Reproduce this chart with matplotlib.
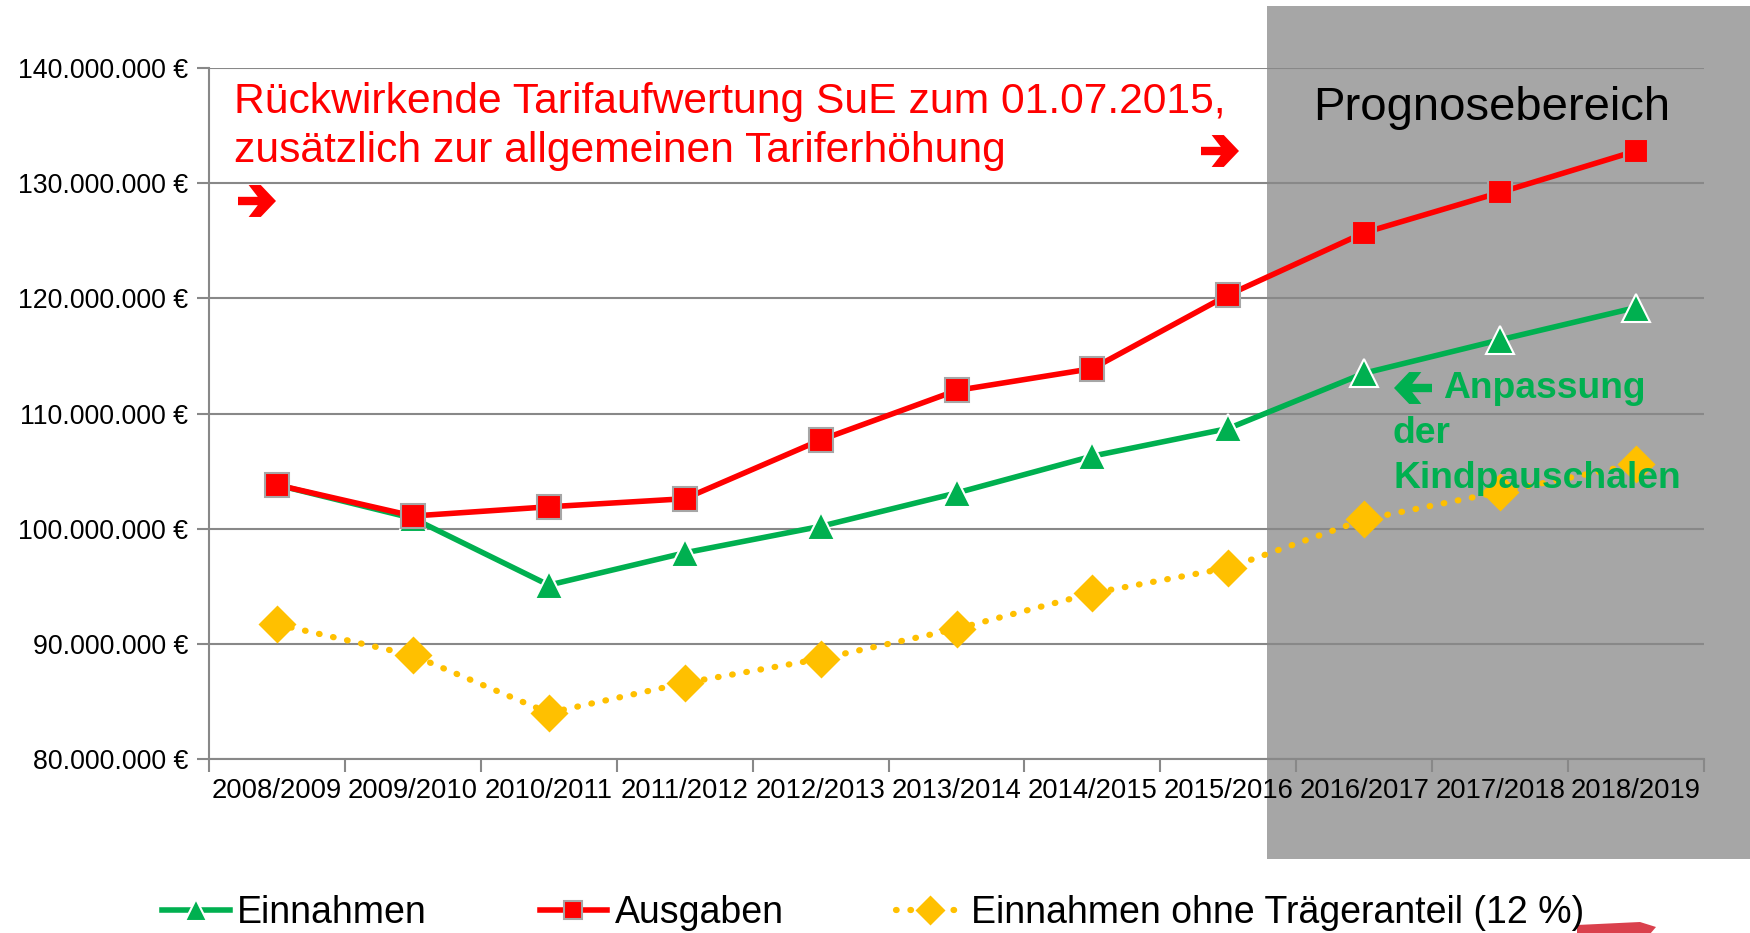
import matplotlib
matplotlib.use("Agg")
import matplotlib.pyplot as plt
from matplotlib.patches import Rectangle, Polygon
import numpy as np

plt.rcParams['font.family'] = ['Liberation Sans', 'DejaVu Sans']

# Data (values in millions of euros)
jahre = ['2008/2009', '2009/2010', '2010/2011', '2011/2012', '2012/2013', '2013/2014',
         '2014/2015', '2015/2016', '2016/2017', '2017/2018', '2018/2019']
einnahmen = [103.8, 100.9, 95.1, 97.9, 100.2, 103.1, 106.3, 108.7, 113.5, 116.4, 119.2]
ausgaben = [103.8, 101.1, 101.9, 102.6, 107.7, 112.0, 113.9, 120.3, 125.7, 129.2, 132.8]
ohne_traeger = [91.7, 89.0, 84.0, 86.6, 88.7, 91.3, 94.4, 96.6, 100.8, 103.2, 105.6]

W, H = 1750, 933
fig = plt.figure(figsize=(17.5, 9.33), dpi=100)

def fx(px):
    return px / W

def fy(py):
    return 1 - py / H

# grey forecast area (behind the axes)
grau = Rectangle((fx(1267), fy(859)), fx(W - 1267) + 0.01, fy(6) - fy(859),
                 transform=fig.transFigure, facecolor='#A6A6A6',
                 edgecolor='none', zorder=-5)
fig.patches.append(grau)

# bit of a red swoosh peeking in at the bottom right (slide decoration)
fig.patches.append(Polygon([(fx(1577), fy(934)), (fx(1577), fy(925)), (fx(1640), fy(922)),
                            (fx(1656), fy(927)), (fx(1650), fy(934))], closed=True,
                           transform=fig.transFigure, facecolor='#D4202E',
                           edgecolor='none', alpha=0.85, zorder=-4))

ax = fig.add_axes([fx(209), fy(759), fx(1704) - fx(209), fy(68) - fy(759)])
ax.set_facecolor('none')
ax.set_zorder(1)

x = np.arange(len(jahre))
ax.plot(x, ohne_traeger, color='#FFC000', lw=4.5, linestyle=(0, (0.1, 2.2)),
        dash_capstyle='round', marker='D', markersize=19, markeredgecolor='none',
        label='Einnahmen ohne Trägeranteil (12 %)', zorder=3)
ax.plot(x, einnahmen, color='#00B050', lw=4, marker='^', markersize=20,
        markeredgecolor='white', markeredgewidth=1.5, label='Einnahmen', zorder=4)
ax.plot(x, ausgaben, color='#FF0000', lw=4, marker='s', markersize=17,
        markeredgecolor='#A6A6A6', markeredgewidth=1.5, label='Ausgaben', zorder=5)

ax.set_xlim(-0.5, len(jahre) - 0.5)
ax.set_ylim(80, 140)
ax.set_yticks(np.arange(80, 141, 10))
ax.set_yticklabels([f'{v}.000.000 €' for v in range(80, 141, 10)], fontsize=19.3)
ax.set_xticks(x)
ax.set_xticklabels(jahre, fontsize=19.7)
ax.set_xticks(np.arange(-0.5, len(jahre)), minor=True)
ax.tick_params(axis='x', which='major', length=0, pad=14)
ax.tick_params(axis='x', which='minor', length=9, width=1.5, color='#888888')
ax.tick_params(axis='y', length=9, width=1.5, color='#888888', pad=6)
ax.grid(axis='y', color='#888888', lw=1.5, zorder=1)
ax.set_axisbelow(True)
for s in ['top', 'right']:
    ax.spines[s].set_visible(False)
for s in ['left', 'bottom']:
    ax.spines[s].set_color('#888888')
    ax.spines[s].set_linewidth(1.5)

# thick chevron arrow, drawn in figure pixels
def pfeil(cx, cy, farbe, breite=38, links=False):
    form = [(-0.5, -0.11), (0.02, -0.11), (-0.22, -0.42), (0.1, -0.42), (0.5, 0),
            (0.1, 0.42), (-0.22, 0.42), (0.02, 0.11), (-0.5, 0.11)]
    s = -1 if links else 1
    pts = [(fx(cx + s * px * breite), fy(cy - py * breite)) for px, py in form]
    fig.patches.append(Polygon(pts, closed=True, transform=fig.transFigure,
                               facecolor=farbe, edgecolor='none', zorder=10))

# annotations
fig.text(fx(234), fy(102), 'Rückwirkende Tarifaufwertung SuE zum 01.07.2015,',
         color='#FF0000', fontsize=30.7, va='center', ha='left')
fig.text(fx(234), fy(151), 'zusätzlich zur allgemeinen Tariferhöhung',
         color='#FF0000', fontsize=30.7, va='center', ha='left')
pfeil(257, 201, '#FF0000')
pfeil(1220, 151, '#FF0000')
fig.text(fx(1492), fy(108), 'Prognosebereich', color='black', fontsize=34,
         va='center', ha='center')
pfeil(1413, 388, '#00B050', links=True)
fig.text(fx(1443), fy(389), 'Anpassung', color='#00B050', fontsize=26.8,
         fontweight='bold', va='center', ha='left')
fig.text(fx(1393), fy(434), 'der', color='#00B050', fontsize=26.8,
         fontweight='bold', va='center', ha='left')
fig.text(fx(1393), fy(479), 'Kindpauschalen', color='#00B050', fontsize=26.8,
         fontweight='bold', va='center', ha='left')

handles, labels = ax.get_legend_handles_labels()
order = [1, 2, 0]
fig.legend([handles[i] for i in order], [labels[i] for i in order],
           loc='center', bbox_to_anchor=(0.499, fy(913)), ncol=3, frameon=False,
           fontsize=27, handlelength=1.8, handletextpad=0.2, columnspacing=3.0,
           markerscale=0.8)

fig.savefig('out.png', dpi=100)
